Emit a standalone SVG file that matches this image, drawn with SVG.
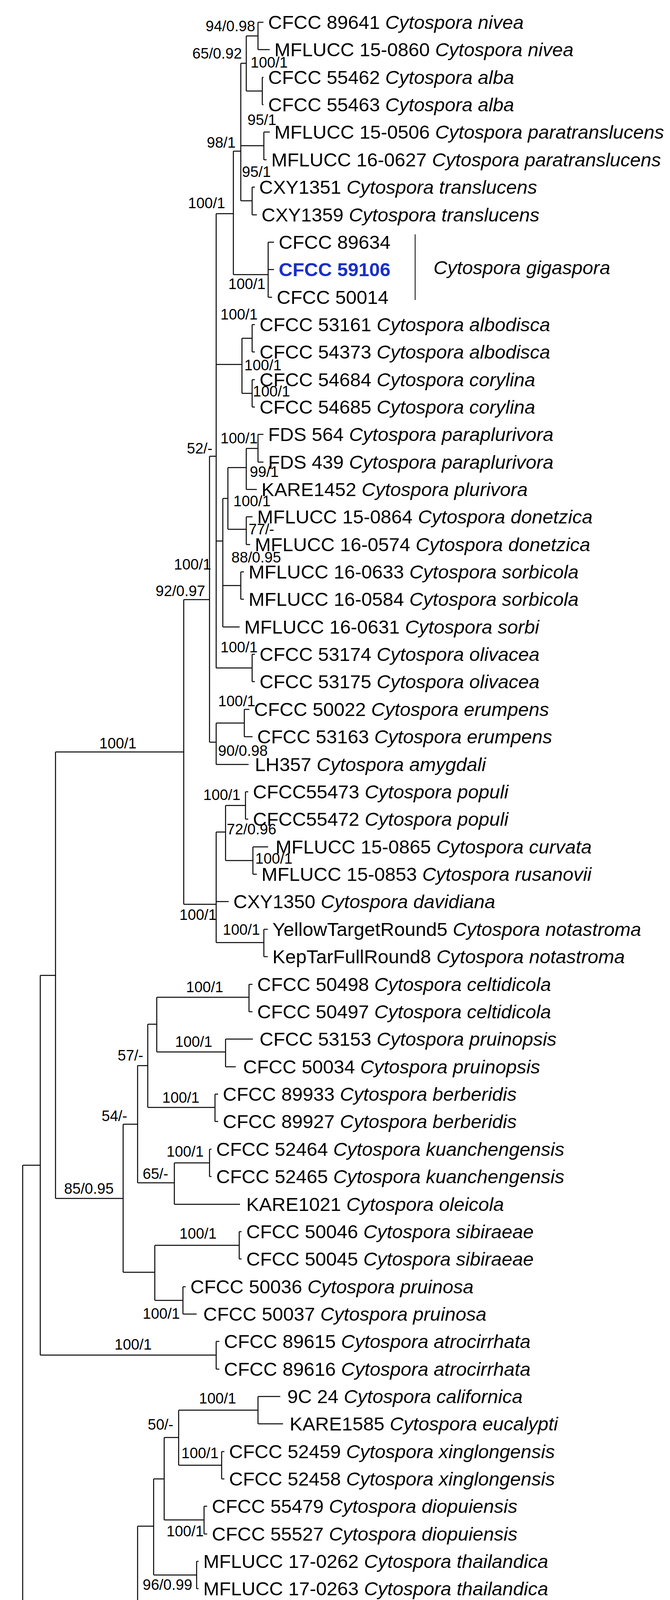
<svg xmlns="http://www.w3.org/2000/svg" width="1714" height="5746" viewBox="0 0 1714 5746">
<style>
.e{fill:none;stroke:#000;stroke-width:2.5}
.t{font-family:"Liberation Sans",Arial,sans-serif;font-size:49px;fill:#000}
.t tspan.s{font-style:italic}
.l{font-family:"Liberation Sans",Arial,sans-serif;font-size:38px;fill:#000}
.b{fill:#1a2fc9;font-weight:bold}
</style>
<rect width="1714" height="5746" fill="#fff"/>
<g id="connectors" class="e">
<path d="M630 92H660M660 57V127M630 233H671M671 198V268M616 162H630M630 92V233M616 373H675M675 338V409M616 514H645M645 479V550M597 387H616M616 162V514M597 703H686M686 620V761M553 547H597M597 387V703"/>
<path d="M553 933H619M619 866V1007M619 866H645M645 831V901M619 1007H645M645 972V1042M536 1168H553M553 547V1710M553 1385H570M570 1276V1605M570 1276H583M583 1197V1355M583 1197H630M630 1148V1253M630 1148H660M660 1112V1183M583 1355H630M630 1323V1394M570 1499H616M616 1464V1534M553 1710H645M645 1675V1745M536 1900H553M553 1851V1957M553 1851H625M625 1816V1886M470 1535H536M536 1168V1900"/>
<path d="M470 2315H553M553 2130V2413M553 2130H577M577 2062V2203M577 2062H628M628 2027V2097M577 2203H647M647 2168V2238M553 2413H675M675 2379V2449M142 1925H470M470 1535V2315"/>
<path d="M103 2497H142M142 1925V3068M142 3068H315M315 2878V3257M315 2878H352M352 2728V3028M352 2728H378M378 2622V2835M378 2622H401M401 2553V2693M401 2553H637M637 2520V2590M401 2693H577M577 2660V2731M378 2835H550M550 2801V2871M352 3028H446M446 2977V3083M446 2977H536M536 2942V3012M315 3257H396M396 3188V3329M396 3188H612M612 3153V3223M396 3329H468M468 3294V3364M103 3469H553M553 3434V3505M58 2983H103M103 2497V3469"/>
<path d="M0 5725H31V4153H58M58 2983V5324M58 5324H119M119 4962V5686M119 4962H280M280 4583V5337M280 4583H315M315 4380V4841M315 4380H324V4163H352M352 3907V4420M352 3907H393M393 3786V4032M393 3786H420M420 3680V3891M420 3680H457M457 3610V3751M457 3610H660M660 3575V3645M457 3751H567M567 3716V3786M420 3891H522M522 3856V3927M393 4032H503M503 3997V4067M352 4420H376M376 4352V4490M376 4352H393M393 4287V4419M393 4287H426M426 4225V4349M426 4225H483M483 4173V4278M483 4173H503M503 4138V4208M315 4595H481M481 4560V4630M315 4736H553M553 4701V4771"/>
<path d="M280 5337H470M470 5172V5502M470 5172H542M542 5077V5264M542 5077H564M564 5000V5158M564 5000H573M573 4947V5052M573 4947H581M581 4912V4982M564 5158H577M577 5123V5193M470 5502H577M577 5334V5580M577 5580H600M600 5545V5615"/>
<path d="M660 57H674M660 127H690M671 198H674M671 268H674M675 338H690M675 409H682M645 479H652M645 550H657M686 620H701M686 690H701M686 761H696M645 831H652M645 901H652M645 972H652M645 1042H652M660 1112H674M660 1183H674M630 1253H657M630 1323H646M630 1394H640M616 1464H624M616 1534H624M570 1605H613M645 1675H652M645 1745H652M625 1816H638M625 1886H646M553 1957H636M628 2027H635M628 2097H635M647 2168H686M647 2238H657M553 2308H585M675 2379H685M675 2449H685M637 2520H646M637 2590H646M577 2660H647M577 2731H603M550 2801H558M550 2871H558M536 2942H541M536 3012H541M446 3083H614M612 3153H618M612 3223H618M468 3294H475M468 3364H503M553 3434H561M553 3505H561M660 3575H717M660 3645H724M567 3716H574M567 3786H574M522 3856H530M522 3927H530M503 3997H508M503 4067H508M503 4138H513M503 4208H513M483 4278H509M426 4349H503M393 4419H608M376 4490H518M481 4560H508M481 4630H502M553 4701H563M553 4771H563M315 4841H680M581 4912H585M581 4982H585M573 5052H584M577 5123H585M577 5193H585M542 5264H597M577 5334H586M577 5404H586M577 5475H586M600 5545H610M600 5615H612M119 5686H495"/>
<path d="M1062 600V768" stroke-width="2"/>
</g>
<g id="taxa">
<g id="t1"><text class="t" x="686" y="74">CFCC 89641 <tspan class="s">Cytospora nivea</tspan></text></g>
<g id="t2"><text class="t" x="702" y="144">MFLUCC 15-0860 <tspan class="s">Cytospora nivea</tspan></text></g>
<g id="t3"><text class="t" x="686" y="215">CFCC 55462 <tspan class="s">Cytospora alba</tspan></text></g>
<g id="t4"><text class="t" x="686" y="285">CFCC 55463 <tspan class="s">Cytospora alba</tspan></text></g>
<g id="t5"><text class="t" x="702" y="355">MFLUCC 15-0506 <tspan class="s">Cytospora paratranslucens</tspan></text></g>
<g id="t6"><text class="t" x="694" y="426">MFLUCC 16-0627 <tspan class="s">Cytospora paratranslucens</tspan></text></g>
<g id="t7"><text class="t" x="663" y="496">CXY1351 <tspan class="s">Cytospora translucens</tspan></text></g>
<g id="t8"><text class="t" x="669" y="567">CXY1359 <tspan class="s">Cytospora translucens</tspan></text></g>
<g id="t9"><text class="t" x="713" y="637">CFCC 89634</text></g>
<g id="t10"><text class="t b" x="713" y="707">CFCC 59106</text></g>
<g id="t11"><text class="t" x="708" y="778">CFCC 50014</text></g>
<g id="gigaspora"><text class="t" x="1109" y="702" font-style="italic">Cytospora gigaspora</text></g>
<g id="t12"><text class="t" x="664" y="848">CFCC 53161 <tspan class="s">Cytospora albodisca</tspan></text></g>
<g id="t13"><text class="t" x="664" y="918">CFCC 54373 <tspan class="s">Cytospora albodisca</tspan></text></g>
<g id="t14"><text class="t" x="664" y="989">CFCC 54684 <tspan class="s">Cytospora corylina</tspan></text></g>
<g id="t15"><text class="t" x="664" y="1059">CFCC 54685 <tspan class="s">Cytospora corylina</tspan></text></g>
<g id="t16"><text class="t" x="686" y="1129">FDS 564 <tspan class="s">Cytospora paraplurivora</tspan></text></g>
<g id="t17"><text class="t" x="686" y="1200">FDS 439 <tspan class="s">Cytospora paraplurivora</tspan></text></g>
<g id="t18"><text class="t" x="669" y="1270">KARE1452 <tspan class="s">Cytospora plurivora</tspan></text></g>
<g id="t19"><text class="t" x="658" y="1340">MFLUCC 15-0864 <tspan class="s">Cytospora donetzica</tspan></text></g>
<g id="t20"><text class="t" x="652" y="1411">MFLUCC 16-0574 <tspan class="s">Cytospora donetzica</tspan></text></g>
<g id="t21"><text class="t" x="636" y="1481">MFLUCC 16-0633 <tspan class="s">Cytospora sorbicola</tspan></text></g>
<g id="t22"><text class="t" x="636" y="1551">MFLUCC 16-0584 <tspan class="s">Cytospora sorbicola</tspan></text></g>
<g id="t23"><text class="t" x="625" y="1622">MFLUCC 16-0631 <tspan class="s">Cytospora sorbi</tspan></text></g>
<g id="t24"><text class="t" x="664" y="1692">CFCC 53174 <tspan class="s">Cytospora olivacea</tspan></text></g>
<g id="t25"><text class="t" x="664" y="1762">CFCC 53175 <tspan class="s">Cytospora olivacea</tspan></text></g>
<g id="t26"><text class="t" x="650" y="1833">CFCC 50022 <tspan class="s">Cytospora erumpens</tspan></text></g>
<g id="t27"><text class="t" x="658" y="1903">CFCC 53163 <tspan class="s">Cytospora erumpens</tspan></text></g>
<g id="t28"><text class="t" x="652" y="1974">LH357 <tspan class="s">Cytospora amygdali</tspan></text></g>
<g id="t29"><text class="t" x="647" y="2044">CFCC55473 <tspan class="s">Cytospora populi</tspan></text></g>
<g id="t30"><text class="t" x="647" y="2114">CFCC55472 <tspan class="s">Cytospora populi</tspan></text></g>
<g id="t31"><text class="t" x="705" y="2185">MFLUCC 15-0865 <tspan class="s">Cytospora curvata</tspan></text></g>
<g id="t32"><text class="t" x="669" y="2255">MFLUCC 15-0853 <tspan class="s">Cytospora rusanovii</tspan></text></g>
<g id="t33"><text class="t" x="597" y="2325">CXY1350 <tspan class="s">Cytospora davidiana</tspan></text></g>
<g id="t34"><text class="t" x="697" y="2396">YellowTargetRound5  <tspan class="s">Cytospora notastroma</tspan></text></g>
<g id="t35"><text class="t" x="697" y="2466">KepTarFullRound8  <tspan class="s">Cytospora notastroma</tspan></text></g>
<g id="t36"><text class="t" x="658" y="2537">CFCC 50498 <tspan class="s">Cytospora celtidicola</tspan></text></g>
<g id="t37"><text class="t" x="658" y="2607">CFCC 50497 <tspan class="s">Cytospora celtidicola</tspan></text></g>
<g id="t38"><text class="t" x="664" y="2677">CFCC 53153 <tspan class="s">Cytospora pruinopsis</tspan></text></g>
<g id="t39"><text class="t" x="622" y="2748">CFCC 50034 <tspan class="s">Cytospora pruinopsis</tspan></text></g>
<g id="t40"><text class="t" x="570" y="2818">CFCC 89933 <tspan class="s">Cytospora berberidis</tspan></text></g>
<g id="t41"><text class="t" x="570" y="2888">CFCC 89927 <tspan class="s">Cytospora berberidis</tspan></text></g>
<g id="t42"><text class="t" x="553" y="2959">CFCC 52464 <tspan class="s">Cytospora kuanchengensis</tspan></text></g>
<g id="t43"><text class="t" x="553" y="3029">CFCC 52465 <tspan class="s">Cytospora kuanchengensis</tspan></text></g>
<g id="t44"><text class="t" x="630" y="3100">KARE1021 <tspan class="s">Cytospora oleicola</tspan></text></g>
<g id="t45"><text class="t" x="630" y="3170">CFCC 50046 <tspan class="s">Cytospora sibiraeae</tspan></text></g>
<g id="t46"><text class="t" x="630" y="3240">CFCC 50045 <tspan class="s">Cytospora sibiraeae</tspan></text></g>
<g id="t47"><text class="t" x="487" y="3311">CFCC 50036 <tspan class="s">Cytospora pruinosa</tspan></text></g>
<g id="t48"><text class="t" x="520" y="3381">CFCC 50037 <tspan class="s">Cytospora pruinosa</tspan></text></g>
<g id="t49"><text class="t" x="573" y="3451">CFCC 89615 <tspan class="s">Cytospora atrocirrhata</tspan></text></g>
<g id="t50"><text class="t" x="573" y="3522">CFCC 89616 <tspan class="s">Cytospora atrocirrhata</tspan></text></g>
<g id="t51"><text class="t" x="735" y="3592">9C 24 <tspan class="s">Cytospora californica</tspan></text></g>
<g id="t52"><text class="t" x="741" y="3662">KARE1585 <tspan class="s">Cytospora eucalypti</tspan></text></g>
<g id="t53"><text class="t" x="586" y="3733">CFCC 52459 <tspan class="s">Cytospora xinglongensis</tspan></text></g>
<g id="t54"><text class="t" x="586" y="3803">CFCC 52458 <tspan class="s">Cytospora xinglongensis</tspan></text></g>
<g id="t55"><text class="t" x="542" y="3873">CFCC 55479 <tspan class="s">Cytospora diopuiensis</tspan></text></g>
<g id="t56"><text class="t" x="542" y="3944">CFCC 55527 <tspan class="s">Cytospora diopuiensis</tspan></text></g>
<g id="t57"><text class="t" x="520" y="4014">MFLUCC 17-0262 <tspan class="s">Cytospora thailandica</tspan></text></g>
<g id="t58"><text class="t" x="520" y="4084">MFLUCC 17-0263 <tspan class="s">Cytospora thailandica</tspan></text></g>
<g id="t59"><text class="t" x="525" y="4155">CFCC 50504 <tspan class="s">Cytospora platycladi</tspan></text></g>
<g id="t60"><text class="t" x="525" y="4225">CFCC 50505 <tspan class="s">Cytospora platycladi</tspan></text></g>
<g id="t61"><text class="t" x="531" y="4295">MFLUCC 18-1204 <tspan class="s">Cytospora pingbianensis</tspan></text></g>
<g id="t62"><text class="t" x="522" y="4366">MFLUCC 17-0508 <tspan class="s">Cytospora lumnitzericola</tspan></text></g>
<g id="t63"><text class="t" x="628" y="4436">CBS 202.36 <tspan class="s">Cytospora viridistroma</tspan></text></g>
<g id="t64"><text class="t" x="536" y="4507">MFLUCC 17-0251 <tspan class="s">Cytospora xylocarpi</tspan></text></g>
<g id="t65"><text class="t" x="520" y="4577">CFCC 50507 <tspan class="s">Cytospora tamaricicola</tspan></text></g>
<g id="t66"><text class="t" x="514" y="4647">CFCC 50508 <tspan class="s">Cytospora tamaricicola</tspan></text></g>
<g id="t67"><text class="t" x="575" y="4718">CXY1276 <tspan class="s">Cytospora palm</tspan></text></g>
<g id="t68"><text class="t" x="575" y="4788">CXY1280 <tspan class="s">Cytospora palm</tspan></text></g>
<g id="t69"><text class="t" x="695" y="4858">PUFNI17611 <tspan class="s">Cytospora fusispora</tspan></text></g>
<g id="t70"><text class="t" x="597" y="4929">CFCC 89626 <tspan class="s">Cytospora ceratospermopsis</tspan></text></g>
<g id="t71"><text class="t" x="597" y="4999">CFCC 89627 <tspan class="s">Cytospora ceratospermopsis</tspan></text></g>
<g id="t72"><text class="t" x="600" y="5069">MFLU 17-0327 <tspan class="s">Cytospora predappioensis</tspan></text></g>
<g id="t73"><text class="t" x="597" y="5140">CFCC 89625 <tspan class="s">Cytospora ceratosperma</tspan></text></g>
<g id="t74"><text class="t" x="597" y="5210">CFCC 89624 <tspan class="s">Cytospora ceratosperma</tspan></text></g>
<g id="t75"><text class="t" x="614" y="5281">Cyt5 <tspan class="s">Cytospora vinacea</tspan></text></g>
<g id="t76"><text class="t" x="597" y="5351">MFLUCC 18-1201 <tspan class="s">Cytospora pubescentis</tspan></text></g>
<g id="t77"><text class="t" x="597" y="5421">MFLU 17-0882 <tspan class="s">Cytospora junipericola</tspan></text></g>
<g id="t78"><text class="t" x="597" y="5492">MFLU 17-0881 <tspan class="s">Cytospora quercicola</tspan></text></g>
<g id="t79"><text class="t" x="622" y="5562">MFLU 17-0880 <tspan class="s">Cytospora fraxinigena</tspan></text></g>
<g id="t80"><text class="t" x="630" y="5632">MFLU 17-0885 <tspan class="s">Cytospora rosae</tspan></text></g>
<g id="t81"><text class="t" x="511" y="5703">MFLU 16-2442 <tspan class="s">Cytospora phialidica</tspan></text></g>
</g>
<g id="supports" class="l">
<text x="526" y="80">94/0.98</text>
<text x="492" y="150">65/0.92</text>
<text x="641" y="173">100/1</text>
<text x="633" y="320">95/1</text>
<text x="529" y="378">98/1</text>
<text x="619" y="453">95/1</text>
<text x="481" y="533">100/1</text>
<text x="584" y="740">100/1</text>
<text x="564" y="818">100/1</text>
<text x="625" y="948">100/1</text>
<text x="647" y="1015">100/1</text>
<text x="564" y="1135">100/1</text>
<text x="478" y="1161">52/-</text>
<text x="639" y="1221">99/1</text>
<text x="597" y="1296">100/1</text>
<text x="636" y="1368">77/-</text>
<text x="592" y="1440">88/0.95</text>
<text x="445" y="1458">100/1</text>
<text x="398" y="1526">92/0.97</text>
<text x="564" y="1670">100/1</text>
<text x="558" y="1808">100/1</text>
<text x="254" y="1916">100/1</text>
<text x="558" y="1935">90/0.98</text>
<text x="520" y="2048">100/1</text>
<text x="580" y="2136">72/0.96</text>
<text x="653" y="2211">100/1</text>
<text x="459" y="2355">100/1</text>
<text x="570" y="2393">100/1</text>
<text x="476" y="2540">100/1</text>
<text x="448" y="2680">100/1</text>
<text x="301" y="2715">57/-</text>
<text x="415" y="2823">100/1</text>
<text x="260" y="2870">54/-</text>
<text x="426" y="2961">100/1</text>
<text x="365" y="3018">65/-</text>
<text x="164" y="3056">85/0.95</text>
<text x="459" y="3171">100/1</text>
<text x="365" y="3376">100/1</text>
<text x="293" y="3455">100/1</text>
<text x="509" y="3593">100/1</text>
<text x="378" y="3660">50/-</text>
<text x="464" y="3733">100/1</text>
<text x="426" y="3933">100/1</text>
<text x="365" y="4070">96/0.99</text>
<text x="409" y="4155">100/1</text>
<text x="400" y="4215">99/1</text>
<text x="442" y="4321">58/-</text>
<text x="404" y="4388">50/-</text>
<text x="335" y="4581">92/0.95</text>
<text x="382" y="4721">100/1</text>
<text x="470" y="4931">100/1</text>
<text x="130" y="4948">96/0.98</text>
<text x="429" y="4988">91/0.98</text>
<text x="418" y="5071">96/0.98</text>
<text x="567" y="5101">100/1</text>
<text x="437" y="5161">100/1</text>
<text x="332" y="5316">100/1</text>
<text x="476" y="5478">100/1</text>
<text x="507" y="5625">90/-</text>
</g>
</svg>
